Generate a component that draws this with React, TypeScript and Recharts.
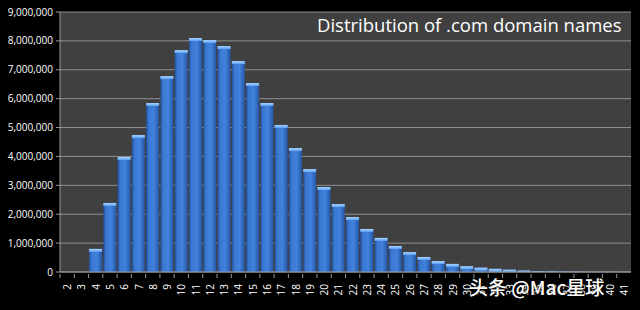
import { BarChart, Bar, XAxis, YAxis, CartesianGrid } from 'recharts';

// name length (characters) and number of registered .com names
const lengths = [
  '2', '3', '4', '5', '6', '7', '8', '9', '10', '11', '12', '13', '14', '15', '16', '17', '18', '19', '20', '21',
  '22', '23', '24', '25', '26', '27', '28', '29', '30', '31', '32', '33', '34', '35', '36', '37', '38', '39', '40', '41',
];
const counts = [
  0, 0, 800000, 2390000, 3980000, 4740000, 5850000, 6780000, 7680000, 8100000,
  8030000, 7820000, 7300000, 6540000, 5850000, 5090000, 4290000, 3560000, 2940000, 2350000,
  1900000, 1490000, 1180000, 900000, 690000, 520000, 380000, 280000, 200000, 150000,
  110000, 80000, 50000, 30000, 20000, 12000, 8000, 5000, 3000, 2000,
];
const yTicks = [0, 1000000, 2000000, 3000000, 4000000, 5000000, 6000000, 7000000, 8000000, 9000000];

const chartData = lengths.map((len, i) => ({ len, count: counts[i] }));

const W = 640;
const H = 310;
const BAND = (640 - 60 - 9) / lengths.length;

function GlossyBar(props: any) {
  const { x, y, width, height } = props;
  if (!height || height <= 0) return null;
  const cap = Math.min(3, height);
  return (
    <g>
      <rect x={x} y={y} width={width} height={height} fill="url(#barGrad)" />
      <rect x={x} y={y} width={width} height={cap} fill="url(#capGrad)" />
    </g>
  );
}

function XTick(props: any) {
  const { x, y, payload } = props;
  return (
    <g>
      <line x1={x - BAND / 2} x2={x - BAND / 2} y1={y - 6} y2={y - 2} stroke="#9a9a9a" />
      <text
        x={x}
        y={y + 4}
        transform={`rotate(-90 ${x} ${y + 4})`}
        textAnchor="end"
        dominantBaseline="central"
        fill="#ffffff"
        fontSize={10}
        fontFamily="Open Sans, sans-serif"
      >
        {payload.value}
      </text>
    </g>
  );
}

export default function App() {
  return (
    <div style={{ position: 'absolute', left: 0, top: 0, width: W, height: H, background: '#000' }}>
      <BarChart
        width={W}
        height={H}
        data={chartData}
        margin={{ top: 12, right: 9, left: 0, bottom: 0 }}
        barCategoryGap={0.5}
      >
        <defs>
          <linearGradient id="barGrad" x1="0" y1="0" x2="1" y2="0">
            <stop offset="0%" stopColor="#234f98" />
            <stop offset="20%" stopColor="#3a78d2" />
            <stop offset="60%" stopColor="#4082dd" />
            <stop offset="100%" stopColor="#2656a4" />
          </linearGradient>
          <linearGradient id="capGrad" x1="0" y1="0" x2="0" y2="1">
            <stop offset="0%" stopColor="#a8d4ff" />
            <stop offset="100%" stopColor="#5d9ef0" />
          </linearGradient>
        </defs>
        <CartesianGrid vertical={false} fill="#404040" stroke="#909090" strokeWidth={1} />
        <XAxis
          dataKey="len"
          interval={0}
          height={38}
          tick={<XTick />}
          tickLine={false}
          axisLine={{ stroke: '#9a9a9a' }}
        />
        <YAxis
          width={60}
          domain={[0, 9000000]}
          ticks={yTicks}
          interval={0}
          tickFormatter={(v: number) => v.toLocaleString('en-US')}
          tick={{ fill: '#ffffff', fontSize: 10, fontFamily: 'Open Sans, sans-serif' }}
          tickSize={4}
          tickMargin={3}
          tickLine={{ stroke: '#9a9a9a' }}
          axisLine={{ stroke: '#9a9a9a' }}
        />
        <Bar dataKey="count" shape={<GlossyBar />} isAnimationActive={false} />
      </BarChart>
      <div
        style={{
          position: 'absolute',
          left: 317,
          top: 12,
          color: '#ffffff',
          fontFamily: 'Open Sans, sans-serif',
          fontSize: 18.5,
          lineHeight: '26px',
          whiteSpace: 'nowrap',
        }}
      >
        Distribution of .com domain names
      </div>
      <div
        style={{
          position: 'absolute',
          left: 469,
          top: 274,
          color: '#ffffff',
          fontFamily: '"Noto Sans CJK SC", sans-serif',
          fontSize: 19,
          fontWeight: 500,
          lineHeight: '26px',
          whiteSpace: 'nowrap',
          textShadow: '1px 1px 2px rgba(0,0,0,0.8)',
        }}
      >
        头条 @Mac星球
      </div>
    </div>
  );
}
